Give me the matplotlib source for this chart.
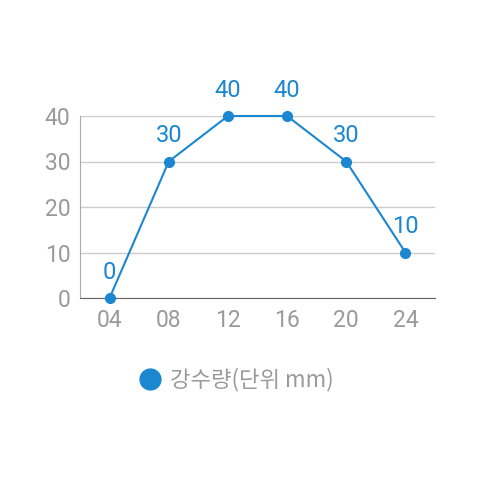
import matplotlib
matplotlib.use("Agg")
import matplotlib.pyplot as plt

categories = ["04", "08", "12", "16", "20", "24"]
values = [0, 30, 40, 40, 30, 10]
yticks = [0, 10, 20, 30, 40]
legend_label = "강수량(단위 mm)"

blue = "#1a87d0"
gray = "#9a9a9a"

fig = plt.figure(figsize=(4.8, 4.8), dpi=100)
ax = fig.add_axes([80/480, 1-298/480, 355/480, 182/480])
x = list(range(len(categories)))
ax.plot(x, values, color=blue, lw=1.5, marker="o", ms=7, clip_on=False, zorder=3)
for xi, v in zip(x, values):
    ax.annotate(str(v), (xi, v), xytext=(0, 14), textcoords="offset points",
                ha="center", va="baseline", color=blue, fontsize=17, family="Roboto")
ax.set_xlim(-0.5, len(categories) - 0.5)
ax.set_ylim(0, 40)
ax.set_xticks(x)
ax.set_xticklabels(categories)
ax.set_yticks(yticks)
ax.tick_params(length=0, labelsize=16.5, colors=gray, pad=7)
ax.tick_params(axis="x", pad=8)
for lab in ax.get_xticklabels() + ax.get_yticklabels():
    lab.set_family("Roboto")
ax.yaxis.grid(True, color="#cccccc", lw=1)
ax.set_axisbelow(True)
for s in ["top", "right"]:
    ax.spines[s].set_visible(False)
ax.spines["left"].set_color("#aaaaaa")
ax.spines["bottom"].set_color("#666666")

fig.legend(handles=[plt.Line2D([], [], color=blue, marker="o", ls="none", ms=15)],
           labels=[legend_label], loc="center", bbox_to_anchor=(235/480, 1-380/480),
           frameon=False, handletextpad=0.3, handlelength=1.2,
           prop={"family": ["Noto Sans CJK KR", "DejaVu Sans"], "size": 16},
           labelcolor=gray)
fig.savefig("out.png")
